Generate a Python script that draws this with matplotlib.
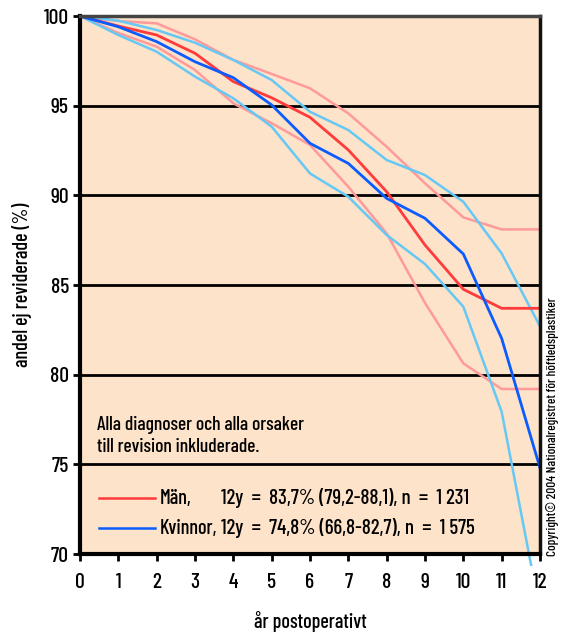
import matplotlib
matplotlib.use("Agg")
import matplotlib.pyplot as plt
from matplotlib.patches import Rectangle

plt.rcParams['font.family'] = ['Barlow Condensed', 'DejaVu Sans']
plt.rcParams['font.weight'] = 500

years = list(range(13))

men = [100, 99.44, 98.94, 97.92, 96.34, 95.44, 94.35, 92.53, 90.2, 87.23, 84.76, 83.7, 83.7]
men_upper = [100, 99.72, 99.59, 98.70, 97.55, 96.77, 95.97, 94.57, 92.71, 90.67, 88.77, 88.1, 88.1]
men_lower = [100, 99.05, 98.29, 96.99, 95.13, 94.02, 92.81, 90.48, 87.88, 84.0, 80.63, 79.2, 79.2]

women = [100, 99.40, 98.57, 97.45, 96.56, 95.04, 92.90, 91.78, 89.83, 88.72, 86.73, 82.02, 74.8]
women_upper = [100, 99.74, 99.22, 98.51, 97.55, 96.43, 94.66, 93.64, 91.97, 91.13, 89.64, 86.76, 82.7]
women_lower = [100, 98.94, 98.01, 96.62, 95.41, 93.83, 91.22, 89.92, 87.79, 86.17, 83.79, 77.93, 66.8]

y_ticks = [70, 75, 80, 85, 90, 95, 100]

legend_names = ['Män,', 'Kvinnor,']
legend_stats = ['12y  =  83,7% (79,2-88,1), n  =  1 231',
                '12y  =  74,8% (66,8-82,7), n  =  1 575']

RED = '#ff3b3b'
RED_CI = '#ff9a9a'
BLUE = '#0a5cff'
BLUE_CI = '#66c8f5'
BG = '#fde3c9'

fig = plt.figure(figsize=(5.64, 6.35), dpi=100)
ax = fig.add_axes([80 / 564, 1 - 554 / 635, 460 / 564, 538 / 635])
ax.set_facecolor(BG)

ax.set_xlim(0, 12)
ax.set_ylim(70, 100)

for y in y_ticks[1:-1]:
    ax.axhline(y, color='black', lw=2.0, zorder=1)

# let curves run a little past the bottom spine
clip = Rectangle((0, -0.022), 1, 1.022, transform=ax.transAxes, fill=False, visible=False)
ax.add_patch(clip)

series = [
    (men_upper, RED_CI, 1.8),
    (men_lower, RED_CI, 1.8),
    (women_upper, BLUE_CI, 1.8),
    (women_lower, BLUE_CI, 1.8),
    (men, RED, 2.0),
    (women, BLUE, 2.0),
]
for vals, col, lw in series:
    ln, = ax.plot(years, vals, color=col, lw=lw, zorder=3)
    ln.set_clip_path(clip)

for side in ['left', 'bottom']:
    ax.spines[side].set_linewidth(3.0)
    ax.spines[side].set_color('black')
ax.spines['right'].set_linewidth(2.5)
ax.spines['right'].set_color('#111111')
ax.spines['top'].set_linewidth(2.5)
ax.spines['top'].set_color('#444444')
for s in ax.spines.values():
    s.set_zorder(5)

ax.set_xticks(years)
ax.set_yticks(y_ticks)
ax.tick_params(axis='both', direction='out', length=5, width=2, colors='black',
               labelsize=15.5)
ax.tick_params(axis='y', pad=3)
ax.tick_params(axis='x', pad=9)

fig.text(310 / 564, 1 - 622 / 635, 'år postoperativt', fontsize=14.5,
         ha='center', va='center')
fig.text(22 / 564, 1 - 285 / 635, 'andel ej reviderade (%)', fontsize=14.5,
         ha='center', va='center', rotation=90)

ax.text(0.037, 0.257, 'Alla diagnoser och alla orsaker\ntill revision inkluderade.',
        transform=ax.transAxes, fontsize=14, va='top', ha='left', linespacing=1.3)

leg_y = [73.12, 71.43]
leg_cols = [RED, BLUE]
for col, name, stat, yv in zip(leg_cols, legend_names, legend_stats, leg_y):
    ax.plot([0.5, 1.95], [yv, yv], color=col, lw=1.8, zorder=4)
    ax.text(2.08, yv, name, fontsize=14.5, va='center', ha='left')
    ax.text(3.68, yv, stat, fontsize=15, va='center', ha='left')

fig.text(553 / 564, 1 - 556 / 635, 'Copyright© 2004 Nationalregistret för höftledsplastiker',
         rotation=90, fontsize=9.5, ha='center', va='bottom')

fig.savefig('out.png', dpi=100, facecolor='white')
